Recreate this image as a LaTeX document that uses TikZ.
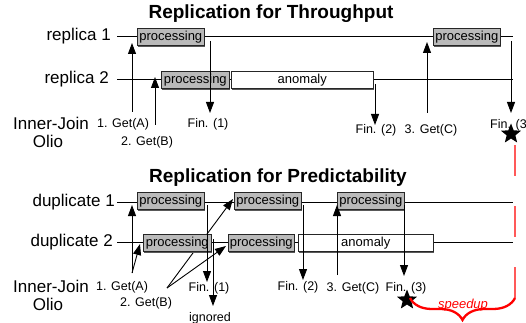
\documentclass[tikz,border=0pt]{standalone}
\usepackage{fontspec}
\setmainfont{Liberation Sans}
\usetikzlibrary{positioning,arrows.meta,shapes.geometric,shadows,decorations.pathreplacing}

\begin{document}
\begin{tikzpicture}[
    x=1pt, y=-1pt,
    ttl/.style={font=\fontsize{19}{22}\selectfont\bfseries},
    lab/.style={font=\fontsize{17}{20}\selectfont, inner sep=0pt},
    txt/.style={font=\fontsize{12.5}{15}\selectfont, inner sep=0pt},
    tl/.style={line width=0.9pt},
    proc/.style={draw=black!85, fill=black!27, line width=0.6pt, minimum height=17pt,
      inner xsep=1pt, inner ysep=0pt, anchor=west, font=\fontsize{13}{15}\selectfont,
      drop shadow={shadow xshift=1.1pt, shadow yshift=-1.1pt, fill=black!65, opacity=1}},
    anom/.style={proc, fill=white},
    req/.style={-{Triangle[width=8pt,length=11pt]}, line width=0.9pt},
    fin/.style={star, star points=5, star point ratio=2.3, fill=black, inner sep=0pt, minimum size=21pt},
    spd/.style={red!65, line width=1.2pt, dash pattern=on 31pt off 30pt},
    brc/.style={red, line width=2.3pt, decorate, decoration={brace, mirror, amplitude=22pt}},
]
\useasboundingbox (0,0) rectangle (526,323);

% ---- throughput ----
\node[ttl] (ttlA) at (271,14) {Replication for Throughput};
\node[lab, anchor=east] (r1) at (111,36) {replica 1};
\node[lab, anchor=east] (r2) at (109,79) {replica 2};
\node[lab] (ijA) at (51,123) {Inner-Join};
\node[lab] (olA) at (48,141) {Olio};

\coordinate (r1s) at (117,36); \coordinate (r1e) at (513,36);
\coordinate (r2s) at (117,79); \coordinate (r2e) at (513,79);
\draw[tl] (r1s) -- (r1e);
\draw[tl] (r2s) -- (r2e);

\node[proc, minimum width=67pt] (r1p1) at (137,37) {processing};
\node[proc, minimum width=67pt] (r1p2) at (433,37) {processing};
\node[proc, minimum width=68pt] (r2p1) at (161,80) {processing};
\node[anom, minimum width=142pt] (r2an) at (231,80) {anomaly};

\node[txt] (getA1) at (123,124) {1. Get(A)};
\node[txt] (getB1) at (147,142) {2. Get(B)};
\node[txt] (finA1) at (208,124) {Fin. (1)};
\node[txt] (finA2) at (376,130) {Fin. (2)};
\node[txt] (getC1) at (431,130) {3. Get(C)};
\node[txt, anchor=west] (finA3) at (490,125) {Fin. (3)};

\coordinate (qA1) at (132,112); \coordinate (hA1) at (132,43);
\coordinate (qB1) at (155,125); \coordinate (hB1) at (155,77);
\coordinate (qC1) at (427,113); \coordinate (hC1) at (427,42);
\coordinate (f1a) at (210,41);  \coordinate (f1b) at (210,113);
\coordinate (f2a) at (375,84);  \coordinate (f2b) at (375,125);
\coordinate (f3a) at (511,41);  \coordinate (f3b) at (511,113);
\draw[req] (qA1) -- (hA1);
\draw[req] (qB1) -- (hB1);
\draw[req] (qC1) -- (hC1);
\draw[req] (f1a) -- (f1b);
\draw[req] (f2a) -- (f2b);
\draw[req] (f3a) -- (f3b);
\node[fin] (winA) at (511,134) {};

% ---- predictability ----
\node[ttl] (ttlB) at (278,178) {Replication for Predictability};
\node[lab, anchor=east] (d1) at (115,202) {duplicate 1};
\node[lab, anchor=east] (d2) at (113,242) {duplicate 2};
\node[lab] (ijB) at (51,286) {Inner-Join};
\node[lab] (olB) at (48,304) {Olio};

\coordinate (d1s) at (117,202); \coordinate (d1e) at (513,202);
\coordinate (d2s) at (117,242); \coordinate (d2e) at (513,242);
\draw[tl] (d1s) -- (d1e);
\draw[tl] (d2s) -- (d2e);

% second request goes to both duplicates
\coordinate (qB2) at (167,288);
\coordinate (hB2) at (233,199);
\coordinate (hB3) at (226,246);
\draw[req] (qB2) -- (hB2);

\node[proc, minimum width=67pt] (d1p1) at (137,201) {processing};
\node[proc, minimum width=67pt] (d1p2) at (234,201) {processing};
\node[proc, minimum width=67pt] (d1p3) at (337,201) {processing};
\node[proc, minimum width=68pt] (d2p1) at (143,243) {processing};
\node[proc, minimum width=66pt] (d2p2) at (228,243) {processing};
\node[anom, minimum width=135pt] (d2an) at (298,243) {anomaly};

\node[txt] (getA2) at (122,287) {1. Get(A)};
\node[txt] (getB2) at (146,303) {2. Get(B)};
\node[txt] (finB1) at (209,288) {Fin. (1)};
\node[txt] (ign) at (210,318) {ignored};
\node[txt] (finB2) at (298,287) {Fin. (2)};
\node[txt] (getC2) at (353,288) {3. Get(C)};
\node[txt] (finB3) at (406,288) {Fin. (3)};

\coordinate (qA2) at (132,273); \coordinate (hA2) at (132,205);
\coordinate (hA3) at (140,244);
\coordinate (qC2) at (337,275); \coordinate (hC2) at (337,205);
\coordinate (g1a) at (207,205); \coordinate (g1b) at (207,282);
\coordinate (g0a) at (213,239); \coordinate (g0b) at (213,306);
\coordinate (g2a) at (303,205); \coordinate (g2b) at (303,280);
\coordinate (g3a) at (404,205); \coordinate (g3b) at (404,276);
\draw[req] (qA2) -- (hA2);
\draw[req] (qA2) -- (hA3);
\draw[req] (qB2) -- (hB3);
\draw[req] (qC2) -- (hC2);
\draw[req] (g1a) -- (g1b);
\draw[req] (g0a) -- (g0b);
\draw[req] (g2a) -- (g2b);
\draw[req] (g3a) -- (g3b);
\node[fin] (winB) at (407,300) {};

% gain
\coordinate (spT) at (515,145); \coordinate (spB) at (515,298);
\coordinate (spL) at (410,298);
\draw[spd] (spT) -- (spB);
\draw[brc] (spL) -- (spB);
\node[txt, red, font=\fontsize{13}{15}\selectfont\itshape] (spdup) at (463,305) {speedup};
\end{tikzpicture}
\end{document}
